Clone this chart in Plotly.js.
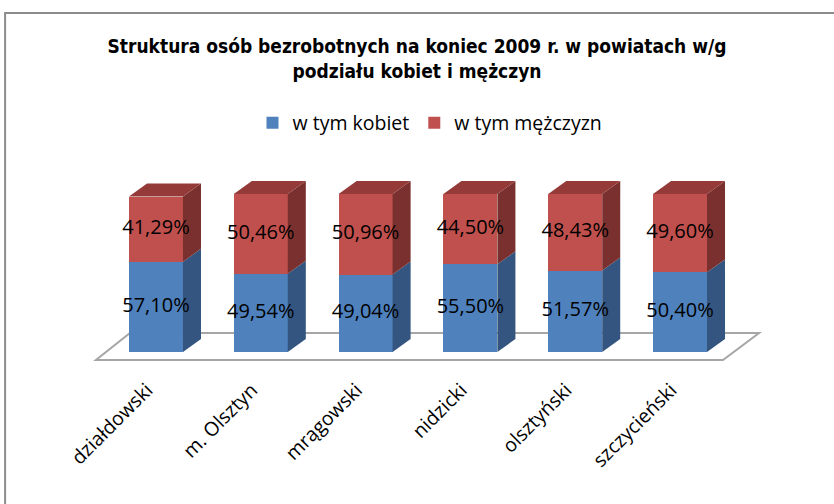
<!DOCTYPE html>
<html><head><meta charset="utf-8">
<script src="https://cdn.plot.ly/plotly-3.0.1.min.js"></script>
<style>body{margin:0;background:#fff}#c{width:834px;height:504px}</style>
</head><body><div id="c"></div>
<script>
const categories = ["działdowski", "m. Olsztyn", "mrągowski", "nidzicki", "olsztyński", "szczycieński"];
const kobiety = [57.10, 49.54, 49.04, 55.50, 51.57, 50.40];
const mezczyzni = [41.29, 50.46, 50.96, 44.50, 48.43, 49.60];
const seriesNames = ["w tym kobiet", "w tym mężczyzn"];

const W = 0.515, DX = 0.172, DY = 8.2;
const xs = categories.map((c, i) => i);
const cBlue = "#4f81bd", cBlueSide = "#34557f";
const cRed = "#c0504d", cRedSide = "#7a302e", cRedTop = "#943a38";
const labelFont = {color: "#000", size: 20, family: "Open Sans, sans-serif"};
const fmt = v => v.toFixed(2).replace(".", ",") + "%";

const traces = [
  {type: "bar", x: xs, y: kobiety, name: seriesNames[0], marker: {color: cBlue}, width: W, hoverinfo: "skip"},
  {type: "bar", x: xs, y: mezczyzni, name: seriesNames[1], marker: {color: cRed}, width: W, hoverinfo: "skip"}
];
function poly(px, py, color) {
  traces.push({type: "scatter", mode: "lines", x: px.concat([px[0]]), y: py.concat([py[0]]),
    fill: "toself", fillcolor: color, line: {width: 0, color: color}, showlegend: false, hoverinfo: "skip"});
}
xs.forEach((i) => {
  const b = kobiety[i], t = kobiety[i] + mezczyzni[i];
  const L = i - W / 2, R = i + W / 2;
  poly([R, R + DX, R + DX, R], [0, DY, b + DY, b], cBlueSide);
  poly([R, R + DX, R + DX, R], [b, b + DY, t + DY, t], cRedSide);
  poly([L, L + DX, R + DX, R], [t, t + DY, t + DY, t], cRedTop);
});
traces.push({type: "scatter", mode: "text", x: xs, y: kobiety.map(v => v / 2),
  text: kobiety.map(fmt), textposition: "middle center", textfont: labelFont, showlegend: false, hoverinfo: "skip"});
traces.push({type: "scatter", mode: "text", x: xs, y: mezczyzni.map((v, i) => kobiety[i] + v / 2),
  text: mezczyzni.map(fmt), textposition: "middle center", textfont: labelFont, showlegend: false, hoverinfo: "skip"});

const n = categories.length;
const fx0 = -0.573, fx1 = n - 1 + 0.41;
const floorPath = `M ${fx0},-5.06 L ${fx1},-5.06 L ${fx1 + 0.344},12 L ${fx0 + 0.325},12 Z`;

const layout = {
  width: 834, height: 504,
  margin: {l: 80, r: 54, t: 170, b: 134},
  paper_bgcolor: "#fff", plot_bgcolor: "rgba(0,0,0,0)",
  barmode: "stack",
  title: {text: "<b>Struktura osób bezrobotnych na koniec 2009 r. w powiatach w/g<br>podziału kobiet i mężczyn</b>",
    x: 0.5, xanchor: "center", y: 0.895, yanchor: "middle",
    font: {family: "DejaVu Sans Condensed, Liberation Sans Narrow, sans-serif", size: 19, color: "#000"}},
  legend: {orientation: "h", traceorder: "normal", x: 0.5, xanchor: "center", y: 1.235, yanchor: "middle",
    font: {family: "Open Sans, sans-serif", size: 19.5, color: "#000"}, itemwidth: 30, bgcolor: "rgba(0,0,0,0)"},
  xaxis: {range: [-0.725, 5.954], tickvals: xs, ticktext: categories, tickangle: -45,
    showgrid: false, zeroline: false, showline: false, ticks: "outside", ticklen: 1, tickcolor: "rgba(0,0,0,0)",
    ticklabelshift: -9, ticklabelstandoff: -1,
    tickfont: {family: "Open Sans, sans-serif", size: 19.5, color: "#000"}, fixedrange: true},
  yaxis: {range: [-11.4, 115.2], visible: false, fixedrange: true},
  shapes: [
    {type: "path", path: floorPath, xref: "x", yref: "y", layer: "below",
     fillcolor: "#fff", line: {color: "#a6a6a6", width: 2}},
    {type: "rect", xref: "paper", yref: "paper", x0: -0.107, x1: 1.2, y0: -0.9, y1: 1.785,
     line: {color: "#8c8c8c", width: 2}, fillcolor: "rgba(0,0,0,0)", layer: "below"}
  ],
  showlegend: true
};
Plotly.newPlot("c", traces, layout, {displayModeBar: false, staticPlot: true});
</script></body></html>
